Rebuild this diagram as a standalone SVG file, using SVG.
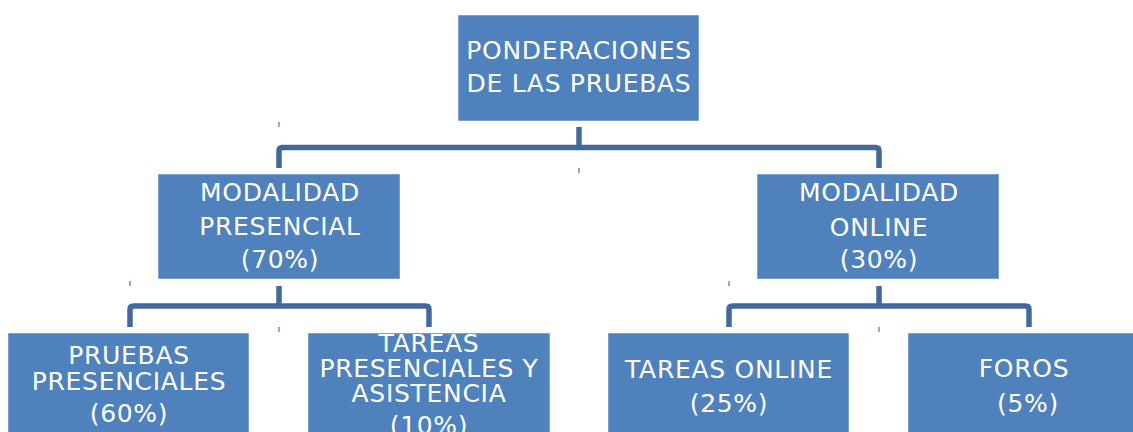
<svg xmlns="http://www.w3.org/2000/svg" width="1133" height="432" viewBox="0 0 1133 432">
<style>
.box{fill:#4f81bd;stroke:#ffffff;stroke-opacity:0.5;stroke-width:1}
.t{font-family:"DejaVu Sans","Verdana",sans-serif;font-size:25px;letter-spacing:0.7px;fill:#ffffff;text-anchor:middle}
.c{fill:none;stroke:#41699b;stroke-width:5.5;stroke-linejoin:round}
.tick{stroke:#6f8fbf;stroke-width:1.5}
</style>
<rect width="1133" height="432" fill="#ffffff"/>
<g id="connectors">
<path class="c" d="M579 127 V147.5"/>
<path class="c" d="M279 168 V151 Q279 147.5 282.5 147.5 H875.5 Q879 147.5 879 151 V168"/>
<path class="c" d="M279 286 V306"/>
<path class="c" d="M130 327 V309.5 Q130 306 133.5 306 H425.5 Q429 306 429 309.5 V327"/>
<path class="c" d="M879 286 V306"/>
<path class="c" d="M729 327 V309.5 Q729 306 732.5 306 H1025.5 Q1029 306 1029 309.5 V327"/>
<line class="tick" x1="279" y1="122" x2="279" y2="127"/>
<line class="tick" x1="579" y1="168" x2="579" y2="173"/>
<line class="tick" x1="130" y1="281" x2="130" y2="286"/>
<line class="tick" x1="279" y1="327" x2="279" y2="332"/>
<line class="tick" x1="729" y1="281" x2="729" y2="286"/>
<line class="tick" x1="879" y1="327" x2="879" y2="332"/>
</g>
<g id="root">
<rect class="box" x="458" y="15" width="241" height="106"/>
<text class="t" x="579" y="59">PONDERACIONES</text>
<text class="t" x="579" y="92">DE LAS PRUEBAS</text>
</g>
<g id="presencial">
<rect class="box" x="158" y="174" width="242" height="105"/>
<text class="t" x="280" y="201">MODALIDAD</text>
<text class="t" x="280" y="235">PRESENCIAL</text>
<text class="t" x="280" y="268">(70%)</text>
</g>
<g id="online">
<rect class="box" x="757" y="174" width="242" height="105"/>
<text class="t" x="879" y="201">MODALIDAD</text>
<text class="t" x="879" y="236">ONLINE</text>
<text class="t" x="879" y="268">(30%)</text>
</g>
<g id="pruebas">
<rect class="box" x="8" y="333" width="241" height="110"/>
<text class="t" x="129" y="364">PRUEBAS</text>
<text class="t" x="129" y="390">PRESENCIALES</text>
<text class="t" x="129" y="422">(60%)</text>
</g>
<g id="tareas-presenciales">
<rect class="box" x="308" y="333" width="242" height="110"/>
<text class="t" x="429" y="352">TAREAS</text>
<text class="t" x="429" y="377">PRESENCIALES Y</text>
<text class="t" x="429" y="402">ASISTENCIA</text>
<text class="t" x="429" y="434">(10%)</text>
</g>
<g id="tareas-online">
<rect class="box" x="608" y="333" width="241" height="110"/>
<text class="t" x="729" y="378">TAREAS ONLINE</text>
<text class="t" x="729" y="412">(25%)</text>
</g>
<g id="foros">
<rect class="box" x="908" y="333" width="242" height="110"/>
<text class="t" x="1024" y="377">FOROS</text>
<text class="t" x="1028" y="412">(5%)</text>
</g>
</svg>
